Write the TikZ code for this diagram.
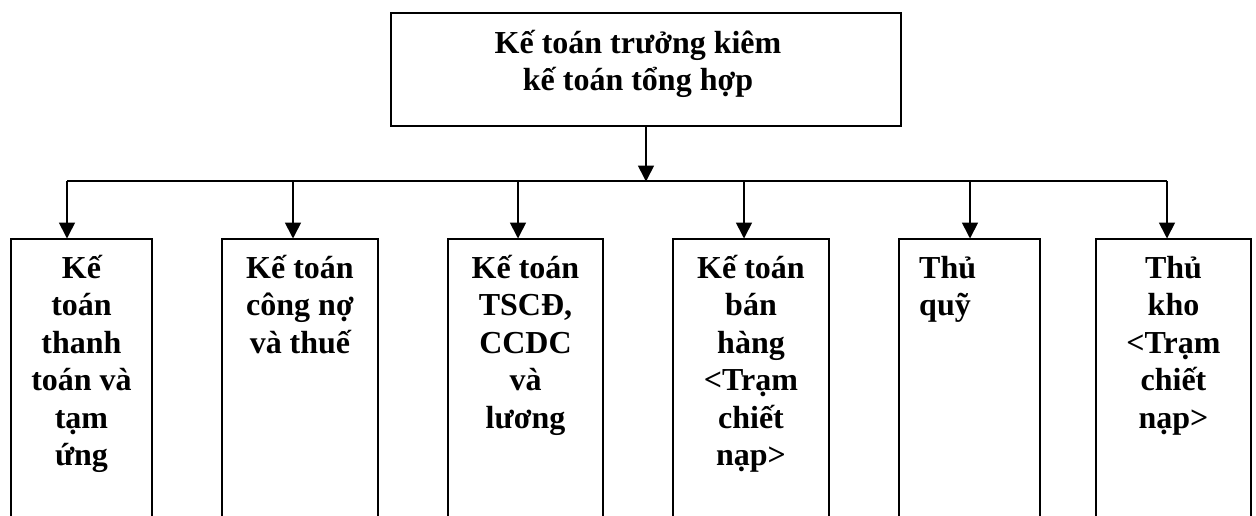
\documentclass[tikz,border=0pt]{standalone}
\usepackage{fontspec}
\setmainfont{Liberation Serif}
\usetikzlibrary{arrows.meta}

\begin{document}
\begin{tikzpicture}[x=1pt,y=-1pt,
  box/.style={draw, line width=1.8pt, inner sep=0pt, anchor=north},
  lbl/.style={inner sep=0pt, anchor=base,
    font=\bfseries\fontsize{32}{37.5}\selectfont},
  bus/.style={line width=1.4pt},
  arr/.style={line width=1.7pt, -{Triangle[length=16pt,width=16pt]}, shorten >=-0.5pt}]
\useasboundingbox (0,0) rectangle (1256,515);
\clip (0,0) rectangle (1256,515);

% head of the department
\node[box, minimum width=510pt, minimum height=113pt] (top) at (646,12) {};
\node[lbl] (ttop) at (638,53) {\parbox[t]{340pt}{\centering Kế toán trưởng kiêm\\kế toán tổng hợp}};

% staff boxes (open at the bottom edge)
\node[box, minimum width=141pt, minimum height=300pt] (b1) at (81.5,238) {};
\node[box, minimum width=156pt, minimum height=300pt] (b2) at (300,238) {};
\node[box, minimum width=155pt, minimum height=300pt] (b3) at (525.5,238) {};
\node[box, minimum width=156pt, minimum height=300pt] (b4) at (751,238) {};
\node[box, minimum width=141pt, minimum height=300pt] (b5) at (969.5,238) {};
\node[box, minimum width=155pt, minimum height=300pt] (b6) at (1173.5,238) {};

% labels
\node[lbl] (t1) at (81.5,278) {\parbox[t]{135pt}{\centering Kế\\toán\\thanh\\toán và\\tạm\\ứng}};
\node[lbl] (t2) at (300,278) {\parbox[t]{150pt}{\centering Kế toán\\công nợ\\và thuế}};
\node[lbl] (t3) at (525.5,278) {\parbox[t]{150pt}{\centering Kế toán\\TSCĐ,\\CCDC\\và\\lương}};
\node[lbl] (t4) at (751,278) {\parbox[t]{150pt}{\centering Kế toán\\bán\\hàng\\<Trạm\\chiết\\nạp>}};
\node[lbl, anchor=base west] (t5) at (919,278) {\parbox[t]{115pt}{\raggedright Thủ\\quỹ}};
\node[lbl] (t6) at (1173.5,278) {\parbox[t]{150pt}{\centering Thủ\\kho\\<Trạm\\chiết\\nạp>}};

% distribution line
\coordinate (busL) at (67,181);
\coordinate (busR) at (1167,181);
\draw[bus] (busL) -- (busR);

% connectors
\draw[arr] (top.south) -- (top.south |- busL);
\draw[arr] ([xshift=-14.5pt]b1.north |- busL) -- ([xshift=-14.5pt]b1.north);
\draw[arr] ([xshift=-7pt]b2.north |- busL) -- ([xshift=-7pt]b2.north);
\draw[arr] ([xshift=-7.5pt]b3.north |- busL) -- ([xshift=-7.5pt]b3.north);
\draw[arr] ([xshift=-7pt]b4.north |- busL) -- ([xshift=-7pt]b4.north);
\draw[arr] ([xshift=0.5pt]b5.north |- busL) -- ([xshift=0.5pt]b5.north);
\draw[arr] ([xshift=-6.5pt]b6.north |- busL) -- ([xshift=-6.5pt]b6.north);
\end{tikzpicture}
\end{document}
